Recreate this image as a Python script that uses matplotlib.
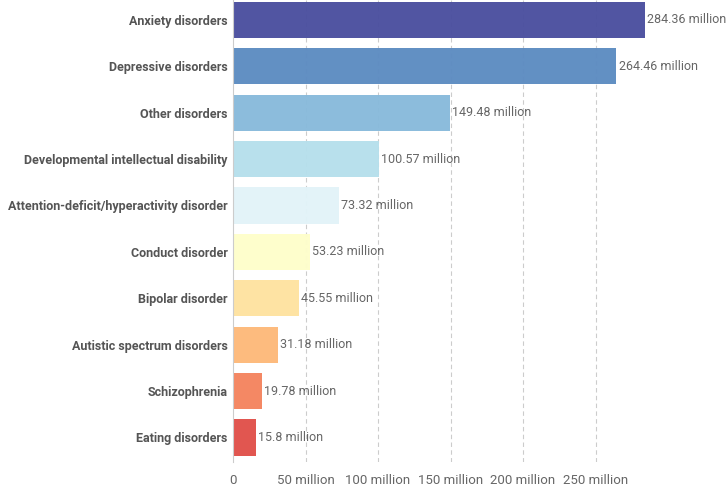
import matplotlib
matplotlib.use('Agg')
import matplotlib.pyplot as plt
from matplotlib.ticker import FuncFormatter

# --- Data ---
categories = ['Anxiety disorders', 'Depressive disorders', 'Other disorders',
              'Developmental intellectual disability',
              'Attention-deficit/hyperactivity disorder', 'Conduct disorder',
              'Bipolar disorder', 'Autistic spectrum disorders',
              'Schizophrenia', 'Eating disorders']
values_million = [284.36, 264.46, 149.48, 100.57, 73.32, 53.23, 45.55, 31.18, 19.78, 15.8]
value_labels = ['284.36 million', '264.46 million', '149.48 million', '100.57 million',
                '73.32 million', '53.23 million', '45.55 million', '31.18 million',
                '19.78 million', '15.8 million']
x_ticks = [0, 50, 100, 150, 200, 250]

colors = ['#4B4F9F', '#5D8CC1', '#88BADB', '#B6DFEC', '#E2F3F8',
          '#FEFECB', '#FEE3A0', '#FDB97A', '#F4845F', '#E0504A']

plt.rcParams['font.family'] = ['Roboto', 'DejaVu Sans']

fig = plt.figure(figsize=(7.26, 4.93), dpi=100)
ax = fig.add_axes([233 / 726, 31 / 493, (668 - 233) / 726, 462 / 493])

ypos = list(range(len(categories)))
ax.barh(ypos, values_million, height=0.78, color=colors, alpha=0.97, zorder=2)

for y, v, lab in zip(ypos, values_million, value_labels):
    ax.text(v + 1.5, y, lab, va='center', ha='left', fontsize=9, color='#666666')

ax.set_yticks(ypos)
ax.set_yticklabels(categories, fontsize=9, fontweight='bold', color='#555555')
ax.set_ylim(9.53, -0.43)
ax.set_xlim(0, 300)

ax.set_xticks(x_ticks)
ax.xaxis.set_major_formatter(FuncFormatter(lambda v, p: '0' if v == 0 else f'{int(v)} million'))
ax.tick_params(axis='x', length=0, pad=9, labelsize=9.5, labelcolor='#666666')
ax.tick_params(axis='y', length=0, pad=4)

for t in x_ticks[1:]:
    ax.axvline(t, color='#cccccc', linestyle=(0, (4, 3)), linewidth=0.8, zorder=1)

for s in ['top', 'right', 'bottom']:
    ax.spines[s].set_visible(False)
ax.spines['left'].set_color('#cccccc')
ax.spines['left'].set_linewidth(0.8)

fig.savefig('out.png', dpi=100)
